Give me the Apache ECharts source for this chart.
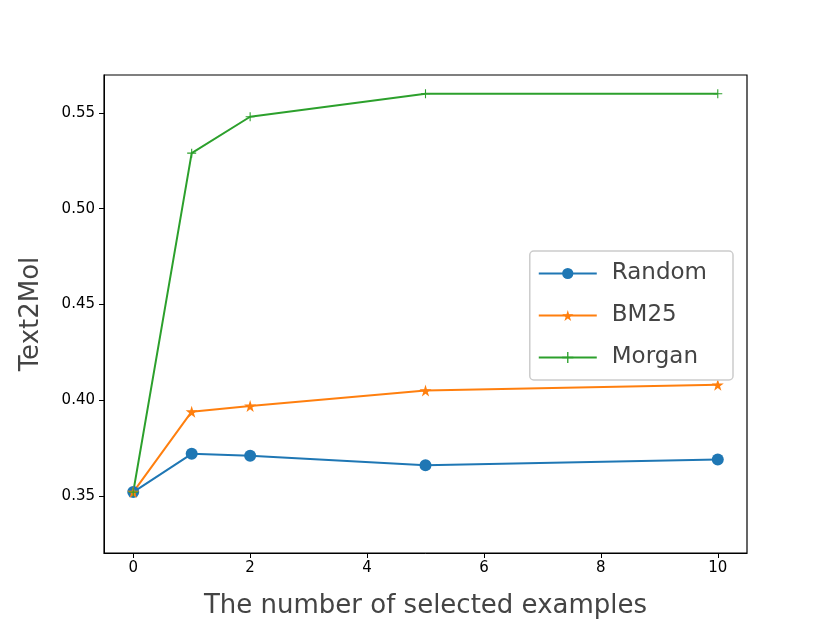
<!DOCTYPE html>
<html>
<head>
<meta charset="utf-8">
<script src="https://cdn.jsdelivr.net/npm/echarts@6/dist/echarts.min.js"></script>
<style>
  html, body { margin: 0; padding: 0; background: #fff; }
  #chart { width: 831px; height: 624px; }
</style>
</head>
<body>
<div id="chart"></div>
<script>
// data
var shots = [0, 1, 2, 5, 10];
var randomVals = [0.352, 0.372, 0.371, 0.366, 0.369];
var bm25Vals = [0.352, 0.394, 0.397, 0.405, 0.408];
var morganVals = [0.352, 0.529, 0.548, 0.560, 0.560];
var xTicks = [0, 2, 4, 6, 8, 10];
var yTicks = [0.35, 0.40, 0.45, 0.50, 0.55];

var starPath = 'path://M50,0 L61,35 L98,35 L68,57 L79,91 L50,70 L21,91 L32,57 L2,35 L39,35 Z';
var plusPath = 'path://M44,0 H56 V44 H100 V56 H56 V100 H44 V56 H0 V44 H44 Z';

function pairs(vals) {
    return shots.map(function (x, i) { return [x, vals[i]]; });
}

var chart = echarts.init(document.getElementById('chart'));
var titleFont = { fontFamily: 'DejaVu Sans', fontSize: 26, color: '#444' };

var option = {
    animation: false,
    grid: {
        left: 104, right: 84, top: 75, bottom: 71,
        containLabel: false, outerBoundsMode: 'none',
        show: true, borderColor: '#000', borderWidth: 1.2
    },
    legend: {
        right: 98, top: 251,
        orient: 'vertical',
        itemWidth: 58, itemHeight: 14, itemGap: 19,
        padding: [11, 26, 11, 8],
        borderColor: '#ccc', borderWidth: 1.5, borderRadius: 4,
        backgroundColor: '#fff',
        textStyle: { fontFamily: 'DejaVu Sans', fontSize: 23, color: '#444', padding: [0, 0, 0, 10] },
        data: ['Random', 'BM25', 'Morgan']
    },
    xAxis: {
        type: 'value', min: -0.5, max: 10.5,
        name: 'The number of selected examples',
        nameLocation: 'middle', nameGap: 40,
        nameTextStyle: titleFont,
        splitLine: { show: false },
        axisLine: { show: true, onZero: false, lineStyle: { color: '#000' } },
        axisTick: { show: true, length: 5, customValues: xTicks, lineStyle: { color: '#000' } },
        axisLabel: { customValues: xTicks, fontFamily: 'DejaVu Sans', fontSize: 15, color: '#000', margin: 8 }
    },
    yAxis: {
        type: 'value', min: 0.3202, max: 0.5698,
        name: 'Text2Mol',
        nameLocation: 'middle', nameGap: 60,
        nameTextStyle: titleFont,
        splitLine: { show: false },
        axisLine: { show: true, onZero: false, lineStyle: { color: '#000' } },
        axisTick: { show: true, length: 5, customValues: yTicks, lineStyle: { color: '#000' } },
        axisLabel: {
            customValues: yTicks, fontFamily: 'DejaVu Sans', fontSize: 15, color: '#000', margin: 9,
            formatter: function (v) { return v.toFixed(2); }
        }
    },
    series: [{
        name: 'Random', type: 'line', data: pairs(randomVals),
        symbol: 'circle', symbolSize: 12,
        itemStyle: { color: '#1f77b4' }, lineStyle: { width: 2, color: '#1f77b4' }
    }, {
        name: 'BM25', type: 'line', data: pairs(bm25Vals),
        symbol: starPath, symbolSize: 12,
        itemStyle: { color: '#ff7f0e' }, lineStyle: { width: 2, color: '#ff7f0e' }
    }, {
        name: 'Morgan', type: 'line', data: pairs(morganVals),
        symbol: plusPath, symbolSize: 9,
        itemStyle: { color: '#2ca02c' }, lineStyle: { width: 2, color: '#2ca02c' }
    }]
};
chart.setOption(option);
</script>
</body>
</html>
